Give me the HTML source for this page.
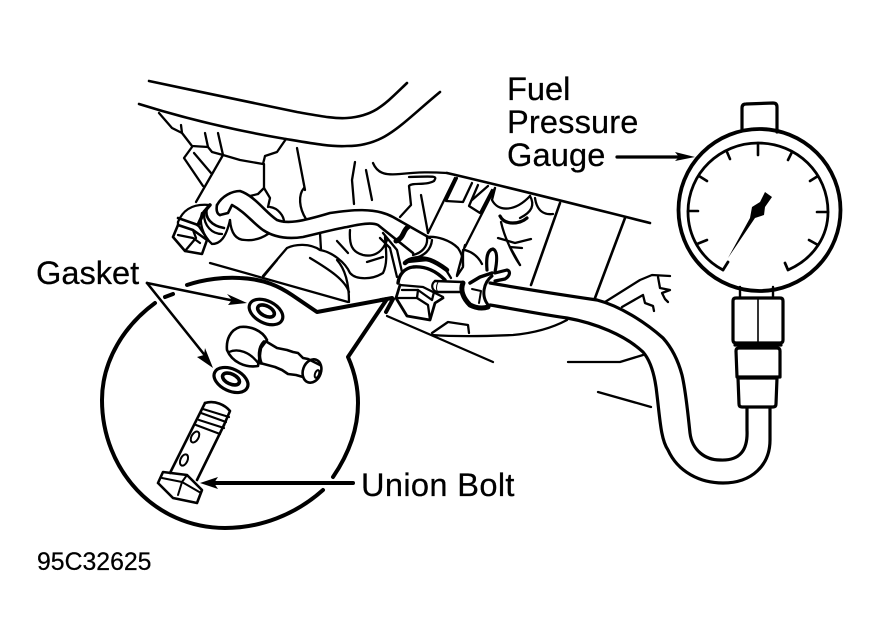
<!DOCTYPE html>
<html><head><meta charset="utf-8"><style>
html,body{margin:0;padding:0;background:#fff;width:879px;height:644px;overflow:hidden}
svg{display:block}
text{font-family:"Liberation Sans",sans-serif;fill:#000;stroke:#000;stroke-width:.25}
.a polyline,.a path,.a line,.a ellipse,.a rect,.a circle{fill:none;stroke:#000;stroke-linejoin:round;stroke-linecap:round}
</style></head><body>
<svg width="879" height="644" viewBox="0 0 879 644" xmlns="http://www.w3.org/2000/svg">
<g class="a" stroke-width="2.3">
<!-- manifold top -->
<path d="M149 81 C200 92 260 104 297 112 C320 116 335 119 347 118 C375 116 385 104 407 83" stroke-width="2.6"/>
<path d="M139 104 C190 120 240 131 280 138 C310 143 330 147 347 146 C385 146 400 125 440 92" stroke-width="2.6"/>
<polyline points="159,113 172,128 182,133 192,146 208,147 212,152 223,155 240,160 263,164 265,156 277,152 286,139"/>
<polyline points="181,125 182,133"/>
<polyline points="205,133 208,147"/>
<polyline points="218,133 223,155"/>
<!-- left fitting -->
<polyline points="192,147 184,158 203,186"/>
<polyline points="194,153 211,173"/>
<polyline points="223,155 196,202"/>
<polyline points="264,164 264,188 258,194 250,196"/>
<polyline points="264,188 270,198 268,207"/>
<path d="M270 207 C278 208 284 216 284 222"/>
<polyline points="297,148 305,190"/>
<path d="M304 188 C298 195 299 208 306 219"/>
<polyline points="355,162 352,180 354,204"/>
<polyline points="366,170 372,200"/>
<path d="M373 163 C378 175 388 175 400 174 C420 172 430 172 447 173"/>
<path d="M447 173 C520 190 590 208 650 223" stroke-width="2.6"/>
<path d="M409 177 C437 176 437 176 434 181 C425 186 412 182 409 186 L411 205 L400 217"/>
<polyline points="421,195 428,233"/>
<!-- hose small -->
<path d="M217 205 C222 196 232 191 240 191 C255 196 265 212 277 220 C287 224 300 222 330 213 C350 210 375 207 393 217 L430 238" stroke-width="2.6"/>
<path d="M220 215 L228 213 L232 205 C245 212 252 222 263 230 C275 238 290 239 303 237 C320 233 335 229 347 227 C360 224 372 222 378 225 L413 253" stroke-width="2.6"/>
<path d="M217 205 C216 210 217 214 220 215" stroke-width="2.6"/>
<path d="M230 220 C231 233 236 240 245 240 C255 241 262 238 268 234"/>
<polyline points="320,233 321,250"/>
<!-- bolt hex left -->
<path d="M178 222 C182 212 190 203 210 205"/>
<polyline points="173,237 178,225 193,230 207,240 202,254 185,251 173,237" stroke-width="2.6"/>
<polyline points="178,218 198,225" stroke-width="2.6"/>
<polyline points="178,222 178,225"/>
<polyline points="178,235 193,238 200,243"/>
<polyline points="193,230 196,238 185,251"/>
<path d="M198 225 L208 240"/>
<path d="M202 213 C199 222 202 235 212 244 C220 244 226 238 230 220"/>
<path d="M207 208 C204 218 212 226 224 228" stroke-width="2.6"/>
<path d="M204 214 C204 226 212 234 222 234"/>
<path d="M198 225 L204 212 L210 205" stroke-width="3.5"/>
<!-- mid -->
<path d="M263 276 L287 248 C295 244 310 243 320 250 C332 252 345 262 350 273 C356 280 372 280 383 273 C388 263 386 250 385 237"/>
<path d="M350 230 C349 245 352 252 363 255 C372 257 382 254 387 240"/>
<polyline points="337,241 348,253"/>
<polyline points="367,262 383,257"/>
<path d="M310 258 C330 270 345 280 349 292"/>
<polyline points="383,233 397,250 402,272"/>
<polyline points="380,238 390,248 397,277"/>
<!-- fitting right -->
<path d="M396 241 C404 238 403 230 408 227" stroke-width="5"/>
<path d="M427 238 C428 246 422 253 413 255"/>
<path d="M432 240 C431 250 424 256 415 258"/>
<path d="M430 238 L427 237 C437 236 450 240 458 248 C462 254 463 258 463 266"/>
<path d="M405 263 C410 258 420 257 430 260 C438 263 443 267 447 270" stroke-width="4.5"/>
<path d="M407 262 L427 260" stroke-width="2.5"/>
<!-- fuel rail bars -->
<polyline points="495,188 465,247"/>
<polyline points="455,178 428,233"/>
<polyline points="457,178 446,201 463,202 472,183"/>
<polyline points="472,200 488,186"/>
<polyline points="478,185 469,206 480,213 492,190"/>
<polyline points="560,203 531,285" stroke-width="2.6"/>
<polyline points="625,218 595,298" stroke-width="2.6"/>
<path d="M495 188 L492 200 C498 212 515 212 530 196"/>
<path d="M535 198 C537 212 545 215 553 214"/>
<path d="M530 196 C535 205 532 212 520 218"/>
<path d="M500 216 C505 226 520 224 527 218" stroke-width="3.2"/>
<path d="M501 222 C505 240 515 258 520 265"/>
<polyline points="498,238 515,243 531,239"/>
<polyline points="510,247 522,248"/>
<path d="M510 247 L520 265"/>
<!-- clamp and nut -->
<path d="M398 283 C399 274 405 268 413 267 C425 266 435 270 445 280" stroke-width="3.4"/>
<polyline points="465,245 457,275"/>
<path d="M465 250 C472 252 478 256 482 264"/>
<path d="M463 250 L463 267 L457 276"/>
<path d="M446 270 L451 278"/>
<path d="M487 270 C486 258 487 250 493 249 C498 251 497 262 495 272" stroke-width="3.2"/>
<path d="M495 273 L507 270 C511 271 510 276 505 279 L495 281" stroke-width="3.2"/>
<polyline points="435,281 462,282" stroke-width="2.4"/>
<polyline points="437,292 460,292" stroke-width="2.4"/>
<path d="M435 281 C431 284 431 290 437 292" stroke-width="2.2"/>
<path d="M438 282 C436 286 436 290 438 292" stroke-width="1"/>
<polyline points="400,285 423,287 433,292 443,297"/>
<polyline points="402,290 418,290 417,298 397,298"/>
<polyline points="417,298 428,305 430,320"/>
<polyline points="418,290 432,300 434,292"/>
<path d="M400 285 L396 298 L407 316 L430 320 L435 303 L443 298" stroke-width="2.8"/>
<path d="M381 300 L392 298 M393 299 L386 312" stroke-width="4"/>
<path d="M463 283 C460 290 463 298 470 305 C476 308 482 309 488 307" stroke-width="5"/>
<path d="M470 283 L480 277 L492 273" stroke-width="3.5"/>
<path d="M492 276 C484 282 480 296 489 306" stroke-width="3"/>
<polyline points="472,289 481,291 479,303" stroke-width="2"/>
<!-- main hose -->
<path d="M490 283 C530 290 570 296 597 300 C620 306 645 322 663 338 C672 348 678 360 682 375 C686 392 688 415 690 433 C692 450 705 460 720 460 C740 461 748 450 747 430 L747 408" stroke-width="3.2"/>
<path d="M490 305 C520 310 545 315 567 318 C595 323 625 335 643 352 C650 360 655 375 657 395 C660 420 661 440 668 450 C678 472 700 483 723 483 C752 483 770 465 770 440 L770 408" stroke-width="3.2"/>
<!-- wires -->
<polyline points="605,302 640,280 652,275 670,276"/>
<polyline points="622,307 643,295 645,303 653,306 654,311"/>
<polyline points="658,277 660,288 670,290 662,293 665,299 668,302"/>
<path d="M432 335 C460 337 490 336 513 335 C535 333 552 328 567 320"/>
<polyline points="432,333 448,322 468,325 469,333"/>
<polyline points="387,316 431,335 493,362"/>
<polyline points="568,362 620,362 643,355"/>
<polyline points="598,392 651,407"/>
<!-- inset -->
<path d="M210 263 L348 302"/>
<path d="M263 277 L277 260"/>
<path d="M337 260 C346 270 349 285 349 302"/>
<path d="M187 285 C205 279 225 277 240 278 C265 279 280 287 292 295 L317 312 L387 299 L348 357 C356 375 358 390 358 403 C358 430 348 455 333 477" stroke-width="4"/>
<path d="M155 303 C125 325 102 360 102 400 C102 470 155 528 225 528 C260 528 295 515 323 490" stroke-width="4"/>
<polyline points="165,297 173,294" stroke-width="4"/>
<!-- arrows -->
<polyline points="147,283 235,301" stroke-width="2.6"/>
<polyline points="147,283 207,358" stroke-width="2.6"/>
<polyline points="353,483 215,483" stroke-width="4"/>
<polyline points="617,157 680,157" stroke-width="3.2"/>
<!-- gaskets -->
<ellipse cx="266" cy="312" rx="18" ry="11" transform="rotate(27 266 312)" stroke-width="3.2"/>
<ellipse cx="266" cy="311" rx="9" ry="5" transform="rotate(27 266 311)" stroke-width="3.6"/>
<ellipse cx="231" cy="380" rx="18" ry="11" transform="rotate(25 231 380)" stroke-width="3.2"/>
<ellipse cx="231" cy="379" rx="9" ry="5" transform="rotate(25 231 379)" stroke-width="3.6"/>
<!-- banjo -->
<path d="M267 340 C262 330 250 326 240 327 C230 330 226 340 227 350 C232 362 245 368 258 366 L261 348 Z" stroke-width="2.6"/>
<path d="M229 352 C238 348 250 352 258 363"/>
<path d="M264 342 C258 348 259 358 261 363" stroke-width="3.5"/>
<polyline points="267,342 277,348 287,350 293,352 298,353 303,358 308,359 320,365" stroke-width="2.6"/>
<polyline points="260,363 275,367 282,370 288,374 296,375 303,377" stroke-width="2.6"/>
<ellipse cx="312" cy="371" rx="9" ry="12" transform="rotate(20 312 371)" stroke-width="2.6"/>
<ellipse cx="317" cy="374" rx="2" ry="4" transform="rotate(20 317 374)" stroke-width="2"/>
<!-- union bolt -->
<path d="M205 403 C215 400 225 405 230 411 L224 425" stroke-width="2.6"/>
<polyline points="205,403 170,473" stroke-width="2.6"/>
<polyline points="224,425 197,480" stroke-width="2.6"/>
<path d="M203 409 L229 417 M201 413 L226 422 M199 420 L224 428 M196 425 L220 434" stroke-width="2.2"/>
<ellipse cx="195" cy="437" rx="3.5" ry="6" transform="rotate(30 195 437)" stroke-width="2"/>
<ellipse cx="184" cy="460" rx="3.5" ry="6" transform="rotate(25 184 460)" stroke-width="2"/>
<polyline points="158,483 163,472 187,475 202,490 197,503 173,498 158,483" stroke-width="2.6"/>
<polyline points="162,478 182,482 201,493" stroke-width="2"/>
<polyline points="187,475 182,482 178,495" stroke-width="2"/>
<!-- gauge -->
<circle cx="759.5" cy="210" r="81" stroke-width="3.8"/>
<path d="M723 270 C700 258 688 235 688 212 C688 173 720 143 758 143 C797 143 828 173 828 212 C828 235 815 258 788 270 L785 263" stroke-width="2.8"/>
<polyline points="723,270 728,262" stroke-width="2.8"/>
<path d="M742 131 L742 108 Q742 104 746 104 L773 103 Q777 103 777 107 L777 132" stroke-width="3.2"/>
<path d="M758 143 V155 M727 152 L730 159 M699 176 L707 181 M688 211 H698 M697 244 L707 240 M792 152 L788 160 M818 176 L810 181 M828 212 H817 M818 245 L809 240" stroke-width="2.6"/>
<!-- gauge stem -->
<path d="M740 287 V297 M773 287 V297" stroke-width="2.4"/>
<path d="M736 298 H780 Q783 298 783 301 V340 Q783 343 780 343 H736 Q733 343 733 340 V301 Q733 298 736 298 Z" stroke-width="3.2"/>
<path d="M758 298 V343" stroke-width="1.6"/>
<path d="M735 345 H781" stroke-width="3.2"/>
<path d="M739 348 H777 Q780 348 780 351 V377 H737 L736 351 Q736 348 739 348 Z" stroke-width="3.2"/>
<path d="M738 378 H777 L776 404 Q776 407 773 407 H742 Q739 407 739 404 Z" stroke-width="3.2"/>
</g>
<!-- solid fills -->
<polygon points="247,303 227,294 232,300 228,305"/>
<polygon points="213,368 205,348 204,355 197,357"/>
<polygon points="200,483 218,477 214,483 218,489"/>
<polygon points="695,157 675,152 679,157 675,161"/>
<polygon points="728,258 750,218 752,207 760,202 765,192 772,197 765,207 764,215 755,218"/>
<g font-size="32.6">
<text x="507" y="100">Fuel</text>
<text x="507" y="133" letter-spacing=".15">Pressure</text>
<text x="507" y="166" letter-spacing=".15">Gauge</text>
<text x="36" y="284">Gasket</text>
<text x="361" y="496" letter-spacing=".35">Union Bolt</text>
</g>
<text x="37" y="570" font-size="24.8">95C32625</text>
</svg>
</body></html>
